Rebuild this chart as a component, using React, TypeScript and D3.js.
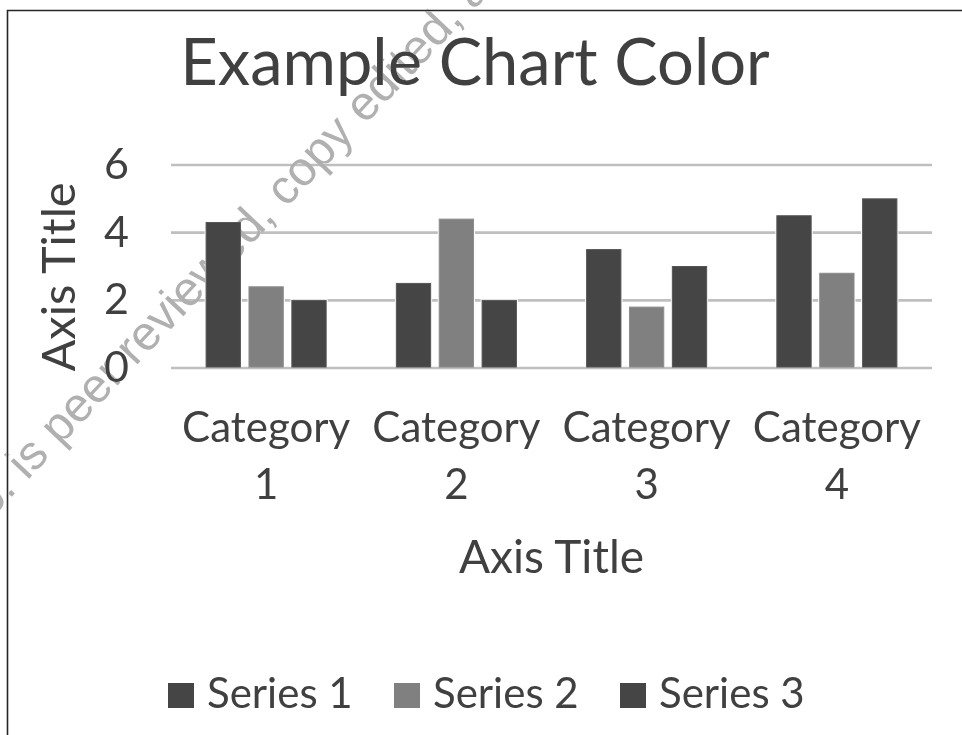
import React, { useEffect, useRef } from "react";
import * as d3 from "d3";

const categories = ["Category 1", "Category 2", "Category 3", "Category 4"];
const seriesNames = ["Series 1", "Series 2", "Series 3"];
const series1 = [4.3, 2.5, 3.5, 4.5];
const series2 = [2.4, 4.4, 1.8, 2.8];
const series3 = [2, 2, 3, 5];
const yTicks = [0, 2, 4, 6];
const seriesColors = ["#454545", "#808080", "#454545"];

const chartTitle = "Example Chart Color";
const xAxisTitle = "Axis Title";
const yAxisTitle = "Axis Title";
const watermarkLead = "o.";
const watermarkText = "is peer reviewed, copy edited, and typeset";

const FONT = "Lato, 'Noto Sans', sans-serif";
const TEXT_COLOR = "#404040";

const App: React.FC = () => {
  const svgRef = useRef<SVGSVGElement | null>(null);

  useEffect(() => {
    if (!svgRef.current) return;
    const svg = d3.select(svgRef.current);
    svg.selectAll("*").remove();

    const width = 962;
    const left = 171;
    const right = 932;

    const values = [series1, series2, series3];

    const x0 = d3
      .scaleBand<string>()
      .domain(categories)
      .range([left, right])
      .paddingInner(0.369)
      .paddingOuter(0.1845);

    const x1 = d3
      .scaleBand<string>()
      .domain(seriesNames)
      .range([0, x0.bandwidth()])
      .paddingInner(0.2);

    const y = d3.scaleLinear().domain([0, 6]).range([368, 165]);

    // frame (only top and left edges are visible)
    svg
      .append("path")
      .attr("d", `M7.5,${735} V10.5 H${width}`)
      .attr("fill", "none")
      .attr("stroke", "#262626")
      .attr("stroke-width", 1.6);

    // title
    svg
      .append("text")
      .attr("x", 475)
      .attr("y", 85)
      .attr("text-anchor", "middle")
      .attr("font-family", FONT)
      .attr("font-size", 65)
      .attr("fill", TEXT_COLOR)
      .text(chartTitle);

    // gridlines
    svg
      .append("g")
      .selectAll("line")
      .data(yTicks)
      .enter()
      .append("line")
      .attr("x1", left)
      .attr("x2", right)
      .attr("y1", (d) => y(d))
      .attr("y2", (d) => y(d))
      .attr("stroke", "#bfbfbf")
      .attr("stroke-width", 2.6);

    // y tick labels
    svg
      .append("g")
      .selectAll("text")
      .data(yTicks)
      .enter()
      .append("text")
      .attr("x", 129)
      .attr("y", (d) => y(d) + 14)
      .attr("text-anchor", "end")
      .attr("font-family", FONT)
      .attr("font-size", 43)
      .attr("fill", TEXT_COLOR)
      .text((d) => String(d));

    // bars
    const groups = svg
      .append("g")
      .selectAll("g")
      .data(categories)
      .enter()
      .append("g")
      .attr("transform", (c) => `translate(${x0(c)},0)`);

    groups.each(function (c, ci) {
      const g = d3.select(this);
      seriesNames.forEach((s, si) => {
        const v = values[si][ci];
        const bx = x1(s) || 0;
        g.append("rect")
          .attr("x", bx - 1.5)
          .attr("y", y(v) - 1.5)
          .attr("width", x1.bandwidth() + 3)
          .attr("height", y(0) - y(v) + 0.5)
          .attr("fill", "#ffffff");
        g.append("rect")
          .attr("x", bx)
          .attr("y", y(v))
          .attr("width", x1.bandwidth())
          .attr("height", y(0) - y(v) - 1)
          .attr("fill", seriesColors[si])
          .attr("stroke", si === 1 ? "#8c8c8c" : "#555555")
          .attr("stroke-width", 1);
      });
    });

    // category labels
    const catLabels = svg
      .append("g")
      .selectAll("text")
      .data(categories)
      .enter()
      .append("text")
      .attr("text-anchor", "middle")
      .attr("font-family", FONT)
      .attr("font-size", 42)
      .attr("fill", TEXT_COLOR);
    catLabels
      .append("tspan")
      .attr("x", (c) => (x0(c) || 0) + x0.bandwidth() / 2)
      .attr("y", 442)
      .text((c) => c.split(" ")[0]);
    catLabels
      .append("tspan")
      .attr("x", (c) => (x0(c) || 0) + x0.bandwidth() / 2)
      .attr("y", 499)
      .text((c) => c.split(" ")[1]);

    // axis titles
    svg
      .append("text")
      .attr("x", (left + right) / 2)
      .attr("y", 573)
      .attr("text-anchor", "middle")
      .attr("font-family", FONT)
      .attr("font-size", 46)
      .attr("fill", TEXT_COLOR)
      .text(xAxisTitle);

    svg
      .append("text")
      .attr("transform", "translate(75,277) rotate(-90)")
      .attr("text-anchor", "middle")
      .attr("font-family", FONT)
      .attr("font-size", 47)
      .attr("fill", TEXT_COLOR)
      .text(yAxisTitle);

    // legend
    const legendStep = 226;
    const legend = svg
      .append("g")
      .selectAll("g")
      .data(seriesNames)
      .enter()
      .append("g")
      .attr("transform", (_, i) => `translate(${168 + i * legendStep},683)`);
    legend
      .append("rect")
      .attr("width", 26)
      .attr("height", 25)
      .attr("fill", (_, i) => seriesColors[i]);
    legend
      .append("text")
      .attr("x", 39)
      .attr("y", 25)
      .attr("font-family", FONT)
      .attr("font-size", 42)
      .attr("fill", TEXT_COLOR)
      .text((d) => d);

    // watermark
    const wm = svg
      .append("g")
      .attr("transform", "translate(27,481) rotate(-46.5)")
      .style("mix-blend-mode", "darken")
      .attr("font-family", "'Liberation Sans', Arial, sans-serif")
      .attr("font-size", 48)
      .attr("fill", "#b0b0b0");
    wm.append("text").attr("x", -13).attr("text-anchor", "end").text(watermarkLead);
    wm.append("text").attr("x", 0).text(watermarkText);
  }, []);

  return (
    <svg
      ref={svgRef}
      width={962}
      height={735}
      style={{ position: "absolute", left: 0, top: 0, background: "#ffffff" }}
    />
  );
};

export default App;
